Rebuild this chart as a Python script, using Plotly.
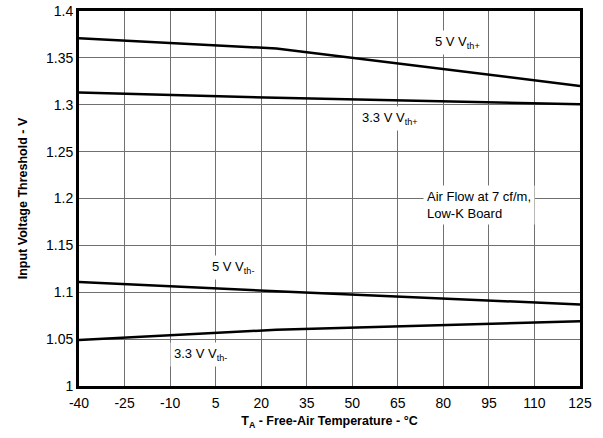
import plotly.graph_objects as go

temps = [-40, 25, 125]
v5_th_plus = [1.371, 1.360, 1.320]
v33_th_plus = [1.313, 1.3075, 1.3005]
v5_th_minus = [1.111, 1.101, 1.087]
v33_th_minus = [1.049, 1.060, 1.069]

x_ticks = list(range(-40, 126, 15))
x_tick_text = [str(v) for v in x_ticks]
y_ticks = [1, 1.05, 1.1, 1.15, 1.2, 1.25, 1.3, 1.35, 1.4]
y_tick_text = ["1", "1.05", "1.1", "1.15", "1.2", "1.25", "1.3", "1.35", "1.4"]

fig = go.Figure()
for ys in [v5_th_plus, v33_th_plus, v5_th_minus, v33_th_minus]:
    fig.add_trace(go.Scatter(x=temps, y=ys, mode="lines",
                             line=dict(color="black", width=2.5),
                             showlegend=False, hoverinfo="skip"))

fam = "Liberation Sans, Arial, sans-serif"
font = dict(family=fam, size=13, color="black")
labels = [
    (84.5, 1.366, "5 V V<sub>th+</sub>"),
    (62.4, 1.285, "3.3 V V<sub>th+</sub>"),
    (91.8, 1.193, "Air Flow at 7 cf/m,<br>Low-K Board"),
    (10.7, 1.126, "5 V V<sub>th-</sub>"),
    (-0.1, 1.034, "3.3 V V<sub>th-</sub>"),
]
for x, y, t in labels:
    fig.add_annotation(x=x, y=y, text=t, showarrow=False, bgcolor="white",
                       font=font, align="left", borderpad=3)

fig.update_layout(
    width=603, height=438,
    margin=dict(l=79, r=23, t=11, b=52),
    paper_bgcolor="white", plot_bgcolor="white",
    font=font,
    xaxis=dict(range=[-40, 125], tickvals=x_ticks, ticktext=x_tick_text,
               tickfont=dict(family=fam, size=14), ticklabelstandoff=2,
               showgrid=True, automargin=False,
               gridcolor="#707070", gridwidth=1, showline=True, mirror=True,
               linecolor="black", linewidth=2.8, ticks="", zeroline=False,
               title=dict(text="<b>T<sub>A</sub> - Free-Air Temperature - °C</b>",
                          font=dict(family=fam, size=12.5), standoff=7)),
    yaxis=dict(range=[1, 1.4], tickvals=y_ticks, ticktext=y_tick_text,
               tickfont=dict(family=fam, size=14),
               showgrid=True, automargin=False, gridcolor="#707070", gridwidth=1,
               showline=True, mirror=True, linecolor="black", linewidth=2.8,
               ticks="", zeroline=False,
               title=dict(text="<b>Input Voltage Threshold - V</b>",
                          font=dict(family=fam, size=12.5), standoff=16)),
)

fig.write_html("out.html", config={"displayModeBar": False},
               post_script="document.body.style.margin='0';")
